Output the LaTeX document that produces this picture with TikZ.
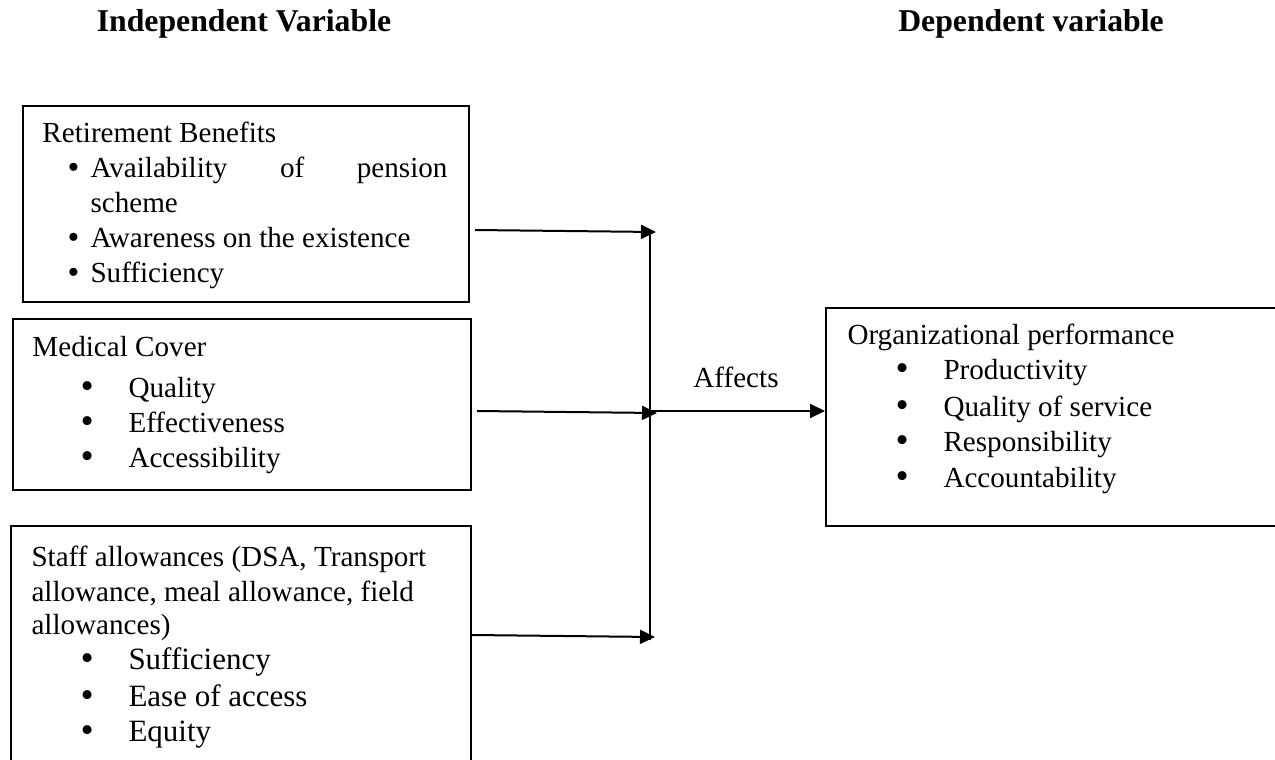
\documentclass[tikz,border=0pt]{standalone}
\usepackage{fontspec}
\setmainfont{Liberation Serif}
\usetikzlibrary{arrows.meta}
\begin{document}
\begin{tikzpicture}[x=0.4pt,y=-0.4pt,
  box/.style={draw, line width=0.8pt, inner sep=0pt, anchor=north west},
  txt/.style={anchor=base west, inner sep=0pt, font=\fontsize{11.65}{14}\selectfont},
  big/.style={anchor=base west, inner sep=0pt, font=\fontsize{12.4}{15}\selectfont},
  dot/.style={anchor=base west, inner sep=0pt, font=\fontsize{15}{15}\selectfont},
  smalldot/.style={anchor=base west, inner sep=0pt, font=\fontsize{13.5}{15}\selectfont},
  head/.style={anchor=base, inner sep=0pt, font=\fontsize{12.7}{15}\selectfont\bfseries},
  arr/.style={line width=0.8pt, -{Triangle[length=6pt,width=5.6pt]}},
  trunk/.style={line width=0.55pt}]
\clip (0,0) rectangle (1275,760);
\fill[white] (0,0) rectangle (1275,760);

% headings
\node[head] (hind) at (244,31) {Independent Variable};
\node[head] (hdep) at (1031,31) {Dependent variable};

% boxes
\node[box, minimum width=178.4pt, minimum height=78.4pt] (b1) at (22,105) {};
\node[box, minimum width=183.2pt, minimum height=68.4pt] (b2) at (12,318) {};
\node[box, minimum width=184pt, minimum height=100pt] (b3) at (10,525) {};
\node[box, minimum width=188pt, minimum height=87.2pt] (b4) at (825,307) {};

% box 1 text
\node[txt] (t1a) at (42,142) {Retirement Benefits};
\node[smalldot] (t1b) at (67,178) {•};
\node[txt] (t1c) at (90,177) {\makebox[142.8pt][s]{Availability of pension}};
\node[txt] (t1d) at (90,212) {scheme};
\node[smalldot] (t1e) at (67,248) {•};
\node[txt] (t1f) at (90,247) {Awareness on the existence};
\node[smalldot] (t1g) at (67,283) {•};
\node[txt] (t1h) at (90,282) {Sufficiency};

% box 2 text
\node[txt] (t2a) at (32,356) {Medical Cover};
\node[dot] (t2b) at (80,398) {•};
\node[txt] (t2c) at (128,397) {Quality};
\node[dot] (t2d) at (80,433) {•};
\node[txt] (t2e) at (128,432) {Effectiveness};
\node[dot] (t2f) at (80,468) {•};
\node[txt] (t2g) at (128,467) {Accessibility};

% box 3 text
\node[txt] (t3a) at (31,566) {Staff allowances (DSA, Transport};
\node[txt] (t3b) at (31,601) {allowance, meal allowance, field};
\node[txt] (t3c) at (31,634) {allowances)};
\node[dot] (t3d) at (80,670) {•};
\node[big] (t3e) at (128,669) {Sufficiency};
\node[dot] (t3f) at (80,707) {•};
\node[big] (t3g) at (128,706) {Ease of access};
\node[dot] (t3h) at (80,742) {•};
\node[big] (t3i) at (128,741) {Equity};

% right box text
\node[txt] (t4a) at (847,344) {Organizational performance};
\node[dot] (t4b) at (895,380) {•};
\node[txt] (t4c) at (943,379) {Productivity};
\node[dot] (t4d) at (895,417) {•};
\node[txt] (t4e) at (943,416) {Quality of service};
\node[dot] (t4f) at (895,452) {•};
\node[txt] (t4g) at (943,451) {Responsibility};
\node[dot] (t4h) at (895,488) {•};
\node[txt] (t4i) at (943,487) {Accountability};

% affects label
\node[anchor=base, inner sep=0pt, font=\fontsize{11.65}{14}\selectfont] (aff) at (736,387) {Affects};

% connector points
\coordinate (s1) at (475,230); \coordinate (e1) at (656,232);
\coordinate (s2) at (477,411); \coordinate (e2) at (657,413);
\coordinate (s3) at (472,635); \coordinate (e3) at (655,637);
\coordinate (jtop) at (650,232);
\coordinate (jmid) at (650,411);
\coordinate (jbot) at (650,640);

\draw[trunk] (jtop) -- (jbot);
\draw[arr] (s1) -- (e1);
\draw[arr] (s2) -- (e2);
\draw[arr] (s3) -- (e3);
\draw[arr] (jmid) -- (b4.west |- jmid);
\end{tikzpicture}
\end{document}
